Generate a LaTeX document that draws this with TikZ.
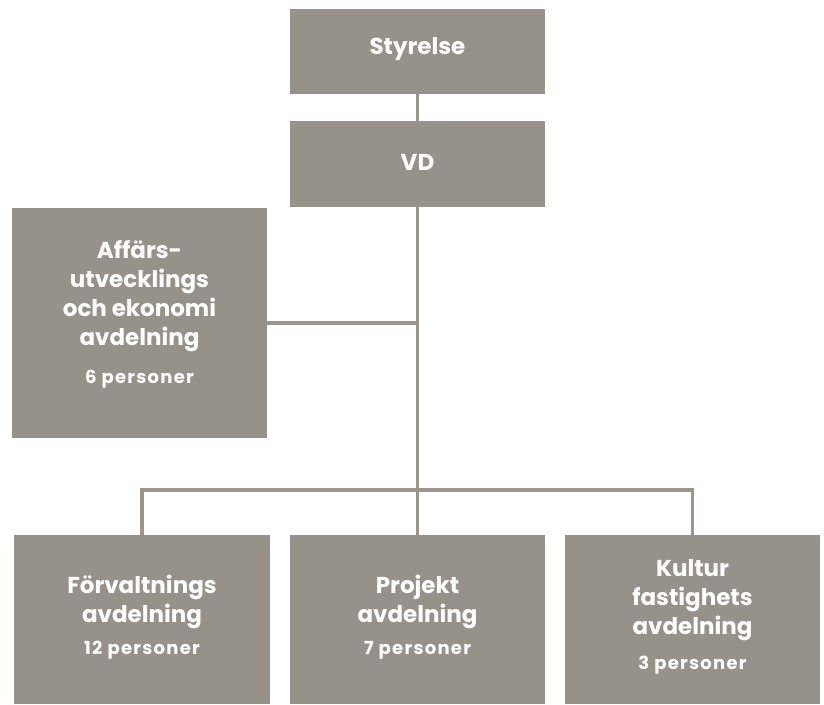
\documentclass[tikz,border=0pt]{standalone}
\usepackage{fontspec}
\setmainfont{Poppins}
\definecolor{boxgray}{HTML}{96928A}
\definecolor{linegray}{HTML}{9A968E}
\newcommand{\pers}[1]{{\fontsize{18}{22}\selectfont\addfontfeatures{LetterSpace=7}#1}}
\begin{document}
\begin{tikzpicture}[x=1pt,y=1pt,
  orgbox/.style={fill=boxgray, draw=none, inner sep=0pt},
  orgtext/.style={text=white, align=center, inner sep=0pt,
    font=\fontsize{23}{29}\selectfont\bfseries},
  conn/.style={draw=linegray, line width=3.8pt}]
\useasboundingbox (0,0) rectangle (824,-704);
\node[orgbox, minimum width=255pt, minimum height=85pt] (sty) at (417.5,-51.5) {};
\node[orgtext] (sty-t) at (417.5,-49) {Styrelse};
\node[orgbox, minimum width=255pt, minimum height=86pt] (vd) at (417.5,-164) {};
\node[orgtext] (vd-t) at (417.5,-162) {VD};
\node[orgbox, minimum width=255pt, minimum height=230pt] (aff) at (139.5,-323) {};
\node[orgtext] (aff-t) at (139.5,-314.5)
  {Affärs-\\utvecklings\\och ekonomi\\avdelning\\[9pt]\pers{6 personer}};
\node[orgbox, minimum width=256pt, minimum height=169pt] (b1) at (142,-619.5) {};
\node[orgtext] (b1-t) at (142,-617.5)
  {Förvaltnings\\avdelning\\[3pt]\pers{12 personer}};
\node[orgbox, minimum width=255pt, minimum height=169pt] (b2) at (417.5,-619.5) {};
\node[orgtext] (b2-t) at (417.5,-617.5)
  {Projekt\\avdelning\\[3pt]\pers{7 personer}};
\node[orgbox, minimum width=255pt, minimum height=169pt] (b3) at (692.5,-619.5) {};
\node[orgtext] (b3-t) at (692.5,-617)
  {Kultur\\fastighets\\avdelning\\[6pt]\pers{3 personer}};
\coordinate (bus) at (417.5,-490);
\draw[conn] (sty.south) -- (vd.north);
\draw[conn] (vd.south) -- (bus);
\draw[conn] (aff.east) -- (aff.east -| vd.south);
\draw[conn] (b1.north) |- (bus) -| (b3.north);
\draw[conn] (bus) -- (b2.north);
\end{tikzpicture}
\end{document}
